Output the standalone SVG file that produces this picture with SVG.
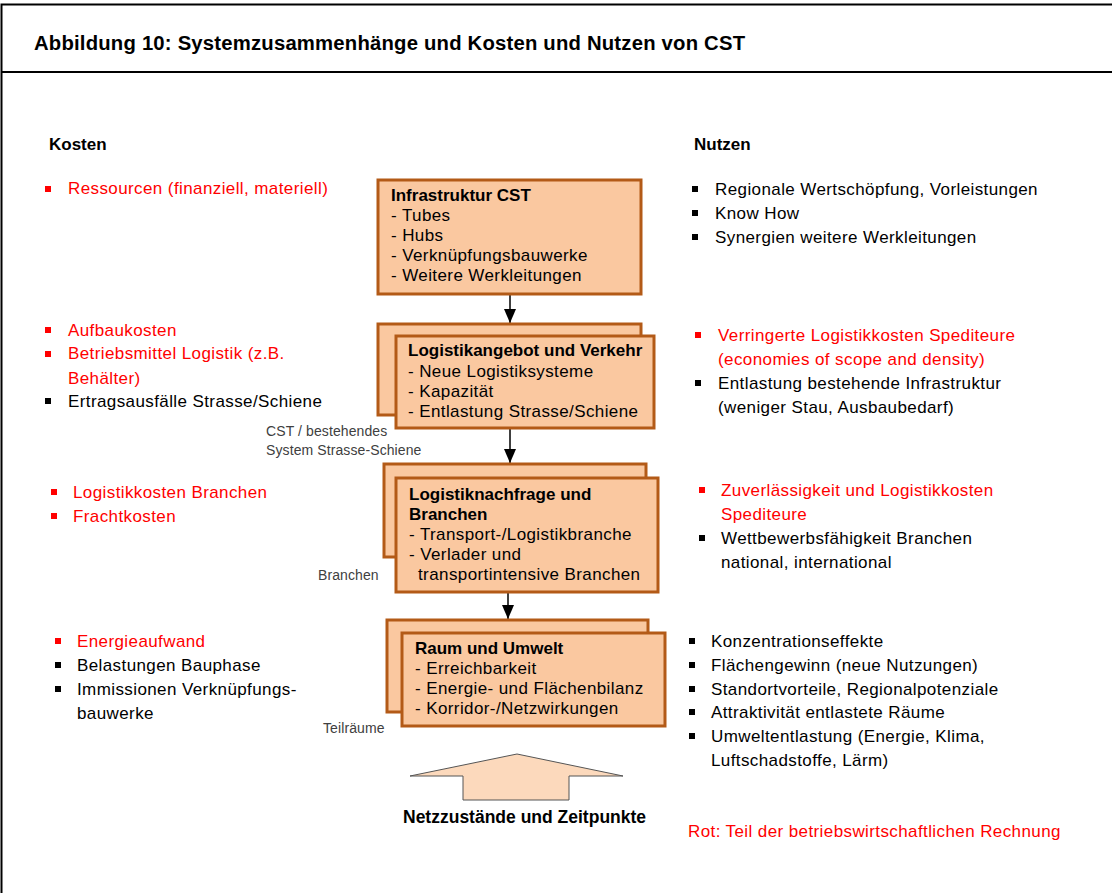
<svg xmlns="http://www.w3.org/2000/svg" width="1112" height="893" viewBox="0 0 1112 893">
<style>
text{font-family:"Liberation Sans",Arial,sans-serif;font-size:17px;letter-spacing:0.4px;fill:#000}
.b{font-weight:bold;letter-spacing:0}
.r{fill:#FF0000}
.s{font-size:14px;letter-spacing:0.1px;fill:#404040}
.box{fill:#FAC8A0;stroke:#B35A17;stroke-width:3}
.bul{fill:#000}
.bulr{fill:#FF0000}
.con{stroke:#000;stroke-width:1.5;fill:none}
</style>
<defs>
<marker id="ah2" viewBox="0 0 14 12" markerWidth="14" markerHeight="12" refX="14" refY="6" orient="auto" markerUnits="userSpaceOnUse">
<path d="M0,0 L14,6 L0,12 Z" fill="#000"/>
</marker>
</defs>
<rect x="0" y="0" width="1112" height="893" fill="#fff"/>
<rect x="1.5" y="4.5" width="1120" height="900" fill="none" stroke="#000" stroke-width="2"/>
<line x1="1" y1="72" x2="1112" y2="72" stroke="#000" stroke-width="2"/>
<text id="title" class="b" x="34" y="50" style="font-size:20.3px;letter-spacing:0.2px">Abbildung 10: Systemzusammenhänge und Kosten und Nutzen von CST</text>

<text class="b" x="49" y="150">Kosten</text>
<text class="b" x="694" y="150">Nutzen</text>

<g id="connectors">
<line class="con" x1="510" y1="294" x2="510" y2="323" marker-end="url(#ah2)"/>
<line class="con" x1="510" y1="428" x2="510" y2="463" marker-end="url(#ah2)"/>
<line class="con" x1="508" y1="592" x2="508" y2="619" marker-end="url(#ah2)"/>
</g>

<g id="node1">
<rect class="box" x="378" y="180" width="263" height="114"/>
<text class="b" x="391" y="201">Infrastruktur CST</text>
<text x="391" y="221">- Tubes</text>
<text x="391" y="241">- Hubs</text>
<text x="391" y="261">- Verknüpfungsbauwerke</text>
<text x="391" y="281">- Weitere Werkleitungen</text>
</g>

<g id="node2">
<rect class="box" x="378" y="324" width="263" height="91"/>
<rect class="box" x="396" y="336" width="258" height="92"/>
<text class="b" x="408" y="356">Logistikangebot und Verkehr</text>
<text x="408" y="377">- Neue Logistiksysteme</text>
<text x="408" y="397">- Kapazität</text>
<text x="408" y="417">- Entlastung Strasse/Schiene</text>
</g>

<g id="node3">
<rect class="box" x="384" y="464" width="262" height="93"/>
<rect class="box" x="396" y="478" width="262" height="114"/>
<text class="b" x="409" y="500">Logistiknachfrage und</text>
<text class="b" x="409" y="520">Branchen</text>
<text x="409" y="540">- Transport-/Logistikbranche</text>
<text x="409" y="560">- Verlader und</text>
<text x="418" y="580">transportintensive Branchen</text>
</g>

<g id="node4">
<rect class="box" x="387" y="620" width="261" height="92"/>
<rect class="box" x="402" y="633" width="263" height="93"/>
<text class="b" x="415" y="654">Raum und Umwelt</text>
<text x="415" y="674">- Erreichbarkeit</text>
<text x="415" y="694">- Energie- und Flächenbilanz</text>
<text x="415" y="714">- Korridor-/Netzwirkungen</text>
</g>

<g id="labels">
<text class="s" x="266" y="436">CST / bestehendes</text>
<text class="s" x="266" y="455">System Strasse-Schiene</text>
<text class="s" x="318" y="580">Branchen</text>
<text class="s" x="323" y="733">Teilräume</text>
</g>

<g id="bigarrow">
<path d="M517,754 L623,776 L569,776 L569,800 L463,800 L463,776 L410,776 Z" fill="#FCD9BC" stroke="#555" stroke-width="1"/>
<text class="b" x="403" y="823" style="font-size:17.5px">Netzzustände und Zeitpunkte</text>
</g>

<g id="kosten">
<rect class="bulr" x="45" y="186" width="6" height="6"/>
<text class="r" x="68" y="194">Ressourcen (finanziell, materiell)</text>
<rect class="bulr" x="45" y="327" width="6" height="6"/>
<text class="r" x="68" y="336">Aufbaukosten</text>
<rect class="bulr" x="45" y="351" width="6" height="6"/>
<text class="r" x="68" y="359">Betriebsmittel Logistik (z.B.</text>
<text class="r" x="68" y="384">Behälter)</text>
<rect class="bul" x="45" y="398" width="6" height="6"/>
<text x="68" y="407">Ertragsausfälle Strasse/Schiene</text>

<rect class="bulr" x="51" y="489" width="6" height="6"/>
<text class="r" x="73" y="498">Logistikkosten Branchen</text>
<rect class="bulr" x="51" y="513" width="6" height="6"/>
<text class="r" x="73" y="522">Frachtkosten</text>

<rect class="bulr" x="55" y="638" width="6" height="6"/>
<text class="r" x="77" y="647">Energieaufwand</text>
<rect class="bul" x="55" y="662" width="6" height="6"/>
<text x="77" y="671">Belastungen Bauphase</text>
<rect class="bul" x="55" y="686" width="6" height="6"/>
<text x="77" y="695">Immissionen Verknüpfungs-</text>
<text x="77" y="719">bauwerke</text>
</g>

<g id="nutzen">
<rect class="bul" x="692" y="186" width="6" height="6"/>
<text x="715" y="195">Regionale Wertschöpfung, Vorleistungen</text>
<rect class="bul" x="692" y="210" width="6" height="6"/>
<text x="715" y="219">Know How</text>
<rect class="bul" x="692" y="234" width="6" height="6"/>
<text x="715" y="243">Synergien weitere Werkleitungen</text>

<rect class="bulr" x="695" y="332" width="6" height="6"/>
<text class="r" x="718" y="341">Verringerte Logistikkosten Spediteure</text>
<text class="r" x="718" y="365">(economies of scope and density)</text>
<rect class="bul" x="695" y="380" width="6" height="6"/>
<text x="718" y="389">Entlastung bestehende Infrastruktur</text>
<text x="718" y="413">(weniger Stau, Ausbaubedarf)</text>

<rect class="bulr" x="699" y="487" width="6" height="6"/>
<text class="r" x="721" y="496">Zuverlässigkeit und Logistikkosten</text>
<text class="r" x="721" y="520">Spediteure</text>
<rect class="bul" x="699" y="535" width="6" height="6"/>
<text x="721" y="544">Wettbewerbsfähigkeit Branchen</text>
<text x="721" y="568">national, international</text>

<rect class="bul" x="689" y="638" width="6" height="6"/>
<text x="711" y="647">Konzentrationseffekte</text>
<rect class="bul" x="689" y="662" width="6" height="6"/>
<text x="711" y="671">Flächengewinn (neue Nutzungen)</text>
<rect class="bul" x="689" y="686" width="6" height="6"/>
<text x="711" y="695">Standortvorteile, Regionalpotenziale</text>
<rect class="bul" x="689" y="709" width="6" height="6"/>
<text x="711" y="718">Attraktivität entlastete Räume</text>
<rect class="bul" x="689" y="733" width="6" height="6"/>
<text x="711" y="742">Umweltentlastung (Energie, Klima,</text>
<text x="711" y="766">Luftschadstoffe, Lärm)</text>

<text class="r" x="688" y="837">Rot: Teil der betriebswirtschaftlichen Rechnung</text>
</g>
</svg>
